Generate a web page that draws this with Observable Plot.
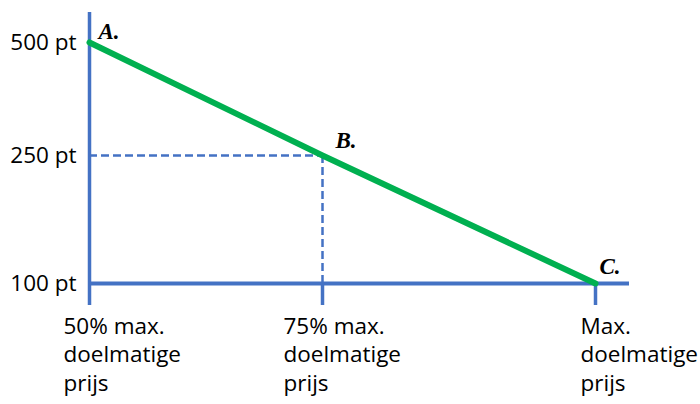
<!DOCTYPE html>
<html>
<head>
<meta charset="utf-8">
<script src="https://cdn.jsdelivr.net/npm/d3@7"></script>
<script src="https://cdn.jsdelivr.net/npm/@observablehq/plot@0.6"></script>
<style>
  html, body { margin: 0; padding: 0; background: #fff; }
  svg { display: block; }
</style>
</head>
<body>
<div id="chart"></div>
<script>
// Data
const pointX = [50, 75, 100];            // % of max. doelmatige prijs
const pointY = [500, 250, 100];          // points
const pointLabels = ["A.", "B.", "C."];
const yTicks = [100, 250, 500];
const yTickLabels = ["100 pt", "250 pt", "500 pt"];
const xTicks = [50, 75, 100];
const xTickLabels = ["50% max.\ndoelmatige\nprijs", "75% max.\ndoelmatige\nprijs", "Max.\ndoelmatige\nprijs"];

const points = pointX.map((x, i) => ({x, y: pointY[i], label: pointLabels[i]}));
const xLabelData = xTicks.map((x, i) => ({x, y: yTicks[0], label: xTickLabels[i]}));

// non-uniform (piecewise) axes as in the reference
const xPiece = d3.scaleLinear().domain(xTicks).range([89, 322, 595]);
const yPiece = d3.scaleLinear().domain(yTicks).range([283, 155, 42]);

const blue = "#4472C4";
const green = "#00B050";
const sans = "'Open Sans', Lato, sans-serif";
const serif = "'Liberation Serif', 'DejaVu Serif', serif";
const fs = 22.5;
const lh = 28.5 / fs;

const pointLabel = (i, dx, dy) => Plot.text([points[i]], {x: "x", y: "y", text: "label", textAnchor: "start", lineAnchor: "bottom",
  dx, dy, fontFamily: serif, fontWeight: "bold", fontStyle: "italic", fontSize: 23, fill: "#000"});
const xLabel = (i, dx) => Plot.text([xLabelData[i]], {x: "x", y: "y", text: "label", textAnchor: "start", lineAnchor: "top",
  dx, dy: 30, lineHeight: lh, fontSize: fs, fill: "#000"});

const chart = Plot.plot({
  width: 700,
  height: 404,
  marginLeft: 89,
  marginRight: 71,
  marginTop: 12,
  marginBottom: 99,
  style: {fontFamily: sans, background: "#fff", overflow: "visible"},
  x: {transform: xPiece, domain: [89, 629], range: [89, 629], axis: null},
  y: {transform: yPiece, domain: [305, 12], range: [305, 12], axis: null},
  marks: [
    // dashed guides to B
    Plot.ruleY([points[1]], {y: "y", x1: pointX[0], x2: "x", stroke: blue, strokeWidth: 2.5, strokeDasharray: "8,4"}),
    Plot.ruleX([points[1]], {x: "x", y1: pointY[2], y2: "y", stroke: blue, strokeWidth: 2.5, strokeDasharray: "8,4"}),
    // axes
    Plot.ruleX([xTicks[0]], {stroke: blue, strokeWidth: 3.5}),
    Plot.ruleY([yTicks[0]], {stroke: blue, strokeWidth: 4}),
    // ticks below x axis
    Plot.tickX(xTicks.slice(1), {x: d => d, stroke: blue, strokeWidth: 3.5, insetTop: 283 - 12, insetBottom: 0}),
    // green line
    Plot.line(points, {x: "x", y: "y", stroke: green, strokeWidth: 6}),
    // point labels
    pointLabel(0, 9, -4),
    pointLabel(1, 13, -8),
    pointLabel(2, 4, -10),
    // y tick labels
    Plot.text(yTicks, {x: xTicks[0], y: d => d, text: (d, i) => yTickLabels[i], textAnchor: "end", dx: -13,
      fontSize: fs, fill: "#000"}),
    // x tick labels
    xLabel(0, -26),
    xLabel(1, -39),
    xLabel(2, -15)
  ]
});
document.getElementById("chart").appendChild(chart);
</script>
</body>
</html>
